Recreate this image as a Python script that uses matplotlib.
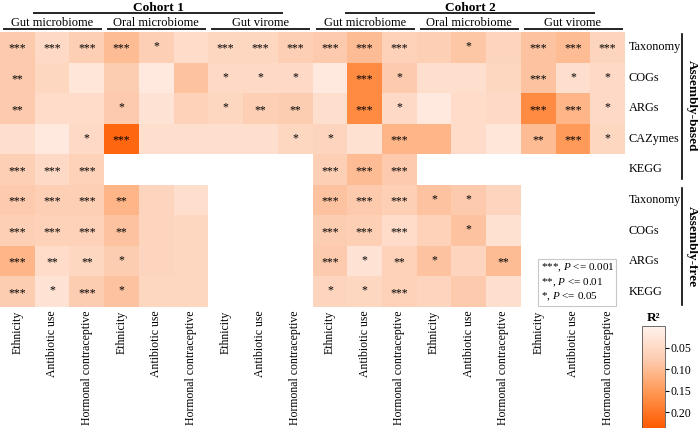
import numpy as np
import matplotlib
matplotlib.use("Agg")
import matplotlib.pyplot as plt
from matplotlib.colors import LinearSegmentedColormap, Normalize
from matplotlib.patches import Rectangle

plt.rcParams['font.family'] = ['Liberation Serif', 'DejaVu Serif']
plt.rcParams['mathtext.fontset'] = 'custom'
plt.rcParams['mathtext.rm'] = 'Liberation Serif'
plt.rcParams['mathtext.it'] = 'Liberation Serif:italic'
plt.rcParams['mathtext.bf'] = 'Liberation Serif:bold'

nan = np.nan
cohorts = ["Cohort 1", "Cohort 2"]
groups = ["Gut microbiome", "Oral microbiome", "Gut virome"]
factors = ["Ethnicity", "Antibiotic use", "Hormonal contraceptive"]
col_labels = factors * 6
row_labels = ["Taxonomy", "COGs", "ARGs", "CAZymes", "KEGG",
              "Taxonomy", "COGs", "ARGs", "KEGG"]
sections = ["Assembly-based", "Assembly-free"]

r2_values = [
    [0.08, 0.05, 0.07, 0.10, 0.07, 0.045, 0.055, 0.055, 0.07, 0.08, 0.10, 0.065, 0.07, 0.085, 0.06, 0.09, 0.10, 0.06],
    [0.08, 0.055, 0.025, 0.075, 0.02, 0.09, 0.05, 0.05, 0.05, 0.02, 0.17, 0.08, 0.04, 0.04, 0.055, 0.09, 0.04, 0.05],
    [0.08, 0.045, 0.045, 0.08, 0.03, 0.065, 0.055, 0.07, 0.075, 0.04, 0.17, 0.05, 0.02, 0.045, 0.05, 0.17, 0.11, 0.05],
    [0.04, 0.02, 0.05, 0.22, 0.04, 0.04, 0.04, 0.04, 0.055, 0.06, 0.035, 0.11, 0.11, 0.045, 0.025, 0.10, 0.15, 0.055],
    [0.07, 0.05, 0.065, nan, nan, nan, nan, nan, nan, 0.07, 0.10, 0.08, nan, nan, nan, nan, nan, nan],
    [0.08, 0.07, 0.07, 0.11, 0.06, 0.04, nan, nan, nan, 0.09, 0.08, 0.07, 0.09, 0.08, 0.06, nan, nan, nan],
    [0.07, 0.065, 0.065, 0.09, 0.06, 0.055, nan, nan, nan, 0.075, 0.07, 0.045, 0.065, 0.09, 0.035, nan, nan, nan],
    [0.11, 0.045, 0.055, 0.075, 0.06, 0.055, nan, nan, nan, 0.08, 0.03, 0.065, 0.09, 0.06, 0.10, nan, nan, nan],
    [0.075, 0.03, 0.075, 0.09, 0.055, 0.055, nan, nan, nan, 0.06, 0.055, 0.065, 0.06, 0.08, 0.04, nan, nan, nan],
]

stars = [
    ["***", "***", "***", "***", "*", "", "***", "***", "***", "***", "***", "***", "", "*", "", "***", "***", "***"],
    ["**", "", "", "", "", "", "*", "*", "*", "", "***", "*", "", "", "", "***", "*", "*"],
    ["**", "", "", "*", "", "", "*", "**", "**", "", "***", "*", "", "", "", "***", "***", "*"],
    ["", "", "*", "***", "", "", "", "", "*", "*", "", "***", "", "", "", "**", "***", "*"],
    ["***", "***", "***", "", "", "", "", "", "", "***", "***", "***", "", "", "", "", "", ""],
    ["***", "***", "***", "**", "", "", "", "", "", "***", "***", "***", "*", "*", "", "", "", ""],
    ["***", "***", "***", "**", "", "", "", "", "", "***", "***", "***", "", "*", "", "", "", ""],
    ["***", "**", "**", "*", "", "", "", "", "", "***", "*", "**", "*", "", "**", "", "", ""],
    ["***", "*", "***", "*", "", "", "", "", "", "*", "*", "***", "", "", "", "", "", ""],
]

legend_lines = [r"***, $P$ <= 0.001", r"**, $P$ <= 0.01", r"*, $P$ <= 0.05"]
cbar_ticks = [0.05, 0.10, 0.15, 0.20]

W, H = 698, 428
fig = plt.figure(figsize=(W / 100, H / 100), dpi=100)

def px_axes(x0, y0, x1, y1):
    return fig.add_axes([x0 / W, 1 - y1 / H, (x1 - x0) / W, (y1 - y0) / H])

cmap = LinearSegmentedColormap.from_list("r2", ["#FFF2EC", "#FDCBAE", "#FF9550", "#FF5A00"], N=256)
norm = Normalize(vmin=0.0, vmax=0.236)

ax = px_axes(0, 32, 625, 307)
data = np.ma.masked_invalid(np.array(r2_values, dtype=float))
nr, nc = data.shape
ax.pcolormesh(np.arange(nc + 1), np.arange(nr + 1), data, cmap=cmap, norm=norm)
ax.set_xlim(0, nc)
ax.set_ylim(nr, 0)
for s in ax.spines.values():
    s.set_visible(False)
ax.set_yticks([])
ax.set_xticks(np.arange(nc) + 0.5)
ax.set_xticklabels(col_labels, rotation=90, fontsize=8.5, va='top', ha='center')
ax.tick_params(axis='x', length=0, pad=2.5)

for i in range(nr):
    for j in range(nc):
        s = stars[i][j]
        if s:
            dy = -0.08 if len(s) == 1 else 0.0
            ax.text(j + 0.5, i + 0.5 + dy, s, ha='center', va='center_baseline', fontsize=8.5, color='black')

# row labels
for i, lab in enumerate(row_labels):
    ax.text(18.1, i + 0.5, lab, ha='left', va='center', fontsize=8.8, clip_on=False)

# headers
for c, name in enumerate(cohorts):
    cx = c * 9 + 4.55
    ax.plot([cx - 3.6, cx + 3.6], [-0.62, -0.62], color='black', lw=1.2, clip_on=False, solid_capstyle='butt')
    ax.text(cx, -0.69, name, ha='center', va='baseline', fontsize=9.6, fontweight='bold', clip_on=False)
    for g, gname in enumerate(groups):
        g0 = c * 9 + g * 3
        ax.plot([g0 + 0.09, g0 + 2.94], [-0.09, -0.09], color='black', lw=1.2, clip_on=False, solid_capstyle='butt')
        ax.text(g0 + 1.5, -0.18, gname, ha='center', va='baseline', fontsize=9, clip_on=False)

# section brackets on the right
sec_spans = [(0.05, 4.8), (5.1, 8.95)]
for (a, b), name in zip(sec_spans, sections):
    ax.plot([19.65, 19.65], [a, b], color='black', lw=1.2, clip_on=False)
    ax.text(19.93, (a + b) / 2, name, rotation=270, ha='center', va='center', fontsize=9.5,
            fontweight='bold', clip_on=False)

# legend box
fig.patches.append(Rectangle((538 / W, 1 - 306 / H), 78 / W, 47 / H, transform=fig.transFigure,
                             facecolor='white', edgecolor='#C8C8C8', lw=0.8))
for k, t in enumerate(legend_lines):
    fig.text(541 / W, 1 - (268 + k * 14.5) / H, t, ha='left', va='center', fontsize=8)

# colorbar
cax = px_axes(642, 326, 665, 428)
sm = matplotlib.cm.ScalarMappable(norm=norm, cmap=cmap)
cb = fig.colorbar(sm, cax=cax, orientation='vertical')
cax.invert_yaxis()
cb.set_ticks(cbar_ticks)
cb.set_ticklabels([f"{t:.2f}" for t in cbar_ticks])
cax.tick_params(labelsize=8.5, length=3, width=0.8, pad=1)
cb.outline.set_linewidth(0.6)
cb.outline.set_edgecolor('#555555')
fig.text(653.5 / W, 1 - 318 / H, "R²", ha='center', va='center', fontsize=9.5, fontweight='bold')

fig.savefig("out.png", dpi=100)
